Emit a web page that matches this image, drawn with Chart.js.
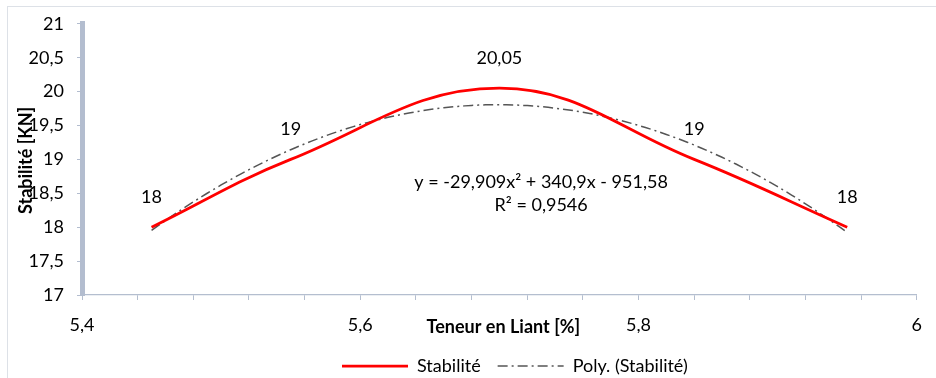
<!DOCTYPE html>
<html>
<head>
<meta charset="utf-8">
<script src="https://cdn.jsdelivr.net/npm/chart.js@4.4.1/dist/chart.umd.min.js"></script>
<style>
  html, body { margin: 0; padding: 0; background: #fff; overflow: hidden; }
  #wrap { position: relative; width: 936px; height: 378px; }
  #frame { position: absolute; left: 7px; top: 6px; width: 1000px; height: 500px;
           border: 1.5px solid #DDE1E7; box-sizing: border-box; }
  canvas { position: absolute; left: 0; top: 0; }
</style>
</head>
<body>
<div id="wrap">
  <div id="frame"></div>
  <canvas id="chart" width="936" height="378"></canvas>
</div>
<script>
// Binder content [%] and measured Marshall stability [KN]
const binderContent = [5.45, 5.55, 5.7, 5.84, 5.95];
const stability = [18, 19, 20.05, 19, 18];

// Second-order polynomial trend: y = a·x² + b·x + c
const trendCoeffs = [-29.909, 340.9, -951.58];
const rSquared = 0.9546;

// Axis ticks
const xLabelTicks = [5.4, 5.6, 5.8, 6];
const yTicks = [17, 17.5, 18, 18.5, 19, 19.5, 20, 20.5, 21];

const seriesNames = ['Stabilité', 'Poly. (Stabilité)'];
const axisTitles = { x: 'Teneur en Liant [%]', y: 'Stabilité [KN]' };

// decimal comma formatting
const fmt = v => String(+(+v).toFixed(4)).replace('.', ',');

// trend curve evaluated from the stated equation over the measured range
const trendPoints = [];
{
  const [a, b, c] = trendCoeffs;
  const x0 = binderContent[0], x1 = binderContent[binderContent.length - 1];
  const n = 100;
  for (let i = 0; i <= n; i++) {
    const x = x0 + (x1 - x0) * i / n;
    trendPoints.push({ x, y: a * x * x + b * x + c });
  }
}
const equationText = 'y = ' + fmt(trendCoeffs[0]) + 'x² + ' + fmt(trendCoeffs[1]) + 'x - ' + fmt(-trendCoeffs[2]);
const r2Text = 'R² = ' + fmt(rSquared);

const FONT = 'Lato';
const TEXT = '#000000';

// value labels, trend equation and axis titles
const annotations = {
  id: 'annotations',
  afterDraw(chart) {
    const { ctx, chartArea } = chart;
    const xs = chart.scales.x, ys = chart.scales.y;
    ctx.save();
    ctx.fillStyle = TEXT;
    ctx.textAlign = 'center';
    ctx.textBaseline = 'middle';
    ctx.font = '18px ' + FONT;
    chart.getDatasetMeta(0).data.forEach((pt, i) => {
      ctx.fillText(fmt(stability[i]), pt.x, pt.y - 30);
    });
    const ex = xs.getPixelForValue(5.73);
    const ey = ys.getPixelForValue(18.66);
    ctx.fillText(equationText, ex, ey);
    ctx.fillText(r2Text, ex, ey + 23);

    ctx.font = 'bold 18px ' + FONT;
    ctx.fillText(axisTitles.x, (chartArea.left + chartArea.right) / 2 + 4, chartArea.bottom + 32);
    ctx.translate(26, (chartArea.top + chartArea.bottom) / 2 + 1);
    ctx.rotate(-Math.PI / 2);
    ctx.fillText(axisTitles.y, 0, 0);
    ctx.restore();
  }
};

// legend placement below the plot
const legendPlacement = {
  id: 'legendPlacement',
  afterLayout(chart) {
    const lg = chart.legend;
    if (!lg || !lg.lineWidths) return;
    const pad = lg.options.labels.padding;
    const start = (lg.left + pad + lg.right - lg.lineWidths[0]) / 2;
    const dx = 342 - start;
    lg.left += dx; lg.right += dx;
    const dy = (366 - pad - 9) - lg.top;
    lg.top += dy; lg.bottom += dy;
  }
};

new Chart(document.getElementById('chart'), {
  type: 'line',
  data: {
    datasets: [
      {
        label: seriesNames[0],
        data: binderContent.map((x, i) => ({ x, y: stability[i] })),
        borderColor: '#FF0000',
        backgroundColor: '#FF0000',
        borderWidth: 2.75,
        pointRadius: 0,
        tension: 0.4,
        fill: false,
        order: 0
      },
      {
        label: seriesNames[1],
        data: trendPoints,
        borderColor: '#555555',
        backgroundColor: '#555555',
        borderWidth: 1.5,
        borderDash: [10, 4, 2, 4],
        pointRadius: 0,
        tension: 0,
        fill: false,
        order: 1
      }
    ]
  },
  options: {
    responsive: false,
    animation: false,
    devicePixelRatio: 1,
    layout: { padding: { left: 0, right: 11.5, top: 19.5, bottom: 0 } },
    plugins: {
      tooltip: { enabled: false },
      legend: {
        position: 'bottom',
        labels: {
          usePointStyle: true,
          pointStyle: 'line',
          pointStyleWidth: 66,
          padding: 17,
          color: TEXT,
          font: { family: FONT, size: 18 },
          generateLabels: chart => chart.data.datasets.map((ds, i) => ({
            text: ds.label,
            strokeStyle: ds.borderColor,
            fillStyle: ds.borderColor,
            fontColor: TEXT,
            lineWidth: ds.borderWidth,
            lineDash: ds.borderDash || [],
            pointStyle: 'line',
            hidden: false,
            datasetIndex: i
          }))
        }
      }
    },
    scales: {
      x: {
        type: 'linear',
        min: xLabelTicks[0],
        max: xLabelTicks[xLabelTicks.length - 1],
        afterFit: s => { s.height = 38; },
        border: { display: true, color: '#B4BECF', width: 1.25 },
        grid: { display: true, drawOnChartArea: false, drawTicks: true, tickLength: 5, color: '#B4BECF' },
        ticks: {
          stepSize: 0.04,
          autoSkip: false,
          maxRotation: 0,
          padding: 14,
          color: TEXT,
          font: { family: FONT, size: 18 },
          callback: v => xLabelTicks.some(t => Math.abs(t - v) < 1e-6) ? fmt(v) : ''
        }
      },
      y: {
        type: 'linear',
        min: yTicks[0],
        max: yTicks[yTicks.length - 1],
        afterFit: s => { s.width = 82; },
        afterBuildTicks: s => { s.ticks = yTicks.map(v => ({ value: v })); },
        border: { display: true, color: '#B3BDCF', width: 5 },
        grid: { display: true, drawOnChartArea: false, drawTicks: true, tickLength: 5, color: '#B3BDCF' },
        ticks: {
          padding: 13,
          color: TEXT,
          font: { family: FONT, size: 18 },
          callback: v => fmt(v)
        }
      }
    }
  },
  plugins: [annotations, legendPlacement]
});
</script>
</body>
</html>
